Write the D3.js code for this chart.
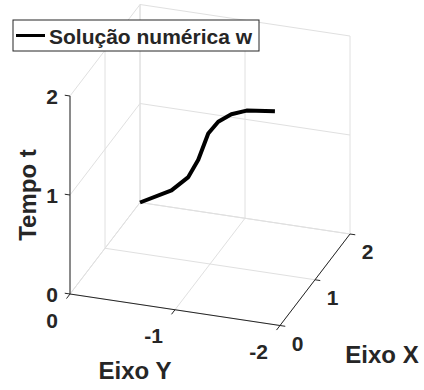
<!DOCTYPE html>
<html>
<head>
<meta charset="utf-8">
<script src="https://cdn.jsdelivr.net/npm/d3@7"></script>
<style>
  body { margin: 0; background: #fff; }
  text { font-family: "Liberation Sans", Arial, Helvetica, sans-serif; font-weight: bold; fill: #262626; }
</style>
</head>
<body>
<svg id="chart_svg"></svg>
<script>
// Curve data (numerical solution w)
var xVals = [2, 2, 2, 2, 2, 2, 2, 2, 2];
var wVals = [0, -0.3, -0.46, -0.555, -0.65, -0.745, -0.87, -1.015, -1.285];
var tVals = [0, 0.17, 0.33, 0.52, 0.80, 0.935, 1.03, 1.09, 1.125];

// Axis ticks
var xTicks = [0, 1, 2];
var yTicks = [0, -1, -2];
var zTicks = [0, 1, 2];

var legendLabel = "Solução numérica w";

var width = 424, height = 390;
var svg = d3.select('#chart_svg').attr('width', width).attr('height', height);

// Projection: origin of axes and per-axis screen vectors (full axis length)
var origin = [70, 294];
var xVec = [70, -91.5];    // x: 0 -> 2
var yVec = [210, 31.5];    // y: 0 -> -2
var zVec = [0, -198];      // z: 0 -> 2

var xS = d3.scaleLinear().domain([0, 2]).range([0, 1]);
var yS = d3.scaleLinear().domain([0, -2]).range([0, 1]);
var zS = d3.scaleLinear().domain([0, 2]).range([0, 1]);

function proj(x, y, z) {
    var a = xS(x), b = yS(y), c = zS(z);
    return [origin[0] + a * xVec[0] + b * yVec[0] + c * zVec[0],
            origin[1] + a * xVec[1] + b * yVec[1] + c * zVec[1]];
}

var gridColor = '#e0e0e0';
var axisColor = '#262626';

var grid = svg.append('g').attr('id', 'grid');
function seg(g, p, q, color, w) {
    g.append('line')
        .attr('x1', p[0]).attr('y1', p[1])
        .attr('x2', q[0]).attr('y2', q[1])
        .attr('stroke', color)
        .attr('stroke-width', w);
}

// Floor z=0
xTicks.forEach(function (x) { seg(grid, proj(x, 0, 0), proj(x, -2, 0), gridColor, 1); });
yTicks.forEach(function (y) { seg(grid, proj(0, y, 0), proj(2, y, 0), gridColor, 1); });
// Back wall x=2
yTicks.forEach(function (y) { seg(grid, proj(2, y, 0), proj(2, y, 2), gridColor, 1); });
zTicks.forEach(function (z) { seg(grid, proj(2, 0, z), proj(2, -2, z), gridColor, 1); });
// Side wall y=0
xTicks.forEach(function (x) { seg(grid, proj(x, 0, 0), proj(x, 0, 2), gridColor, 1); });
zTicks.forEach(function (z) { seg(grid, proj(0, 0, z), proj(2, 0, z), gridColor, 1); });

// Axis lines
var axes = svg.append('g').attr('id', 'axes');
seg(axes, proj(0, 0, 0), proj(0, 0, 2), axisColor, 1);
seg(axes, proj(0, 0, 0), proj(0, -2, 0), axisColor, 1);
seg(axes, proj(0, -2, 0), proj(2, -2, 0), axisColor, 1);

// Tick marks
var tk = 0.05;
zTicks.forEach(function (z) { seg(axes, proj(0, 0, z), proj(0, tk, z), axisColor, 1); });
yTicks.forEach(function (y) { seg(axes, proj(0, y, 0), proj(-tk * 2, y, 0), axisColor, 1); });
xTicks.forEach(function (x) { seg(axes, proj(x, -2, 0), proj(x, -2 - tk, 0), axisColor, 1); });

// Tick labels
var tickFont = 21;
zTicks.forEach(function (z) {
    var p = proj(0, 0, z);
    axes.append('text').attr('x', p[0] - 12).attr('y', p[1])
        .attr('text-anchor', 'end').attr('dominant-baseline', 'central')
        .attr('font-size', tickFont).text(z);
});
yTicks.forEach(function (y) {
    var p = proj(0, y, 0);
    axes.append('text').attr('x', p[0] - 12).attr('y', p[1] + 26)
        .attr('text-anchor', 'end').attr('dominant-baseline', 'central')
        .attr('font-size', tickFont).text(y === 0 ? '0' : String(y));
});
xTicks.forEach(function (x) {
    var p = proj(x, -2, 0);
    axes.append('text').attr('x', p[0] + 17.5).attr('y', p[1] + 17.5)
        .attr('text-anchor', 'middle').attr('dominant-baseline', 'central')
        .attr('font-size', tickFont).text(x);
});

// Axis labels
var labelFont = 24;
var pz = proj(0, 0, 1);
axes.append('text')
    .attr('transform', 'translate(' + (pz[0] - 43) + ',' + pz[1] + ') rotate(-90)')
    .attr('text-anchor', 'middle').attr('dominant-baseline', 'central')
    .attr('font-size', labelFont).text('Tempo t');
var py = proj(0, -1, 0);
axes.append('text').attr('x', py[0] - 40).attr('y', py[1] + 61)
    .attr('text-anchor', 'middle').attr('dominant-baseline', 'central')
    .attr('font-size', labelFont).text('Eixo Y');
var px = proj(1, -2, 0);
axes.append('text').attr('x', px[0] + 67).attr('y', px[1] + 75)
    .attr('text-anchor', 'middle').attr('dominant-baseline', 'central')
    .attr('font-size', labelFont).text('Eixo X');

// Curve
var pts = tVals.map(function (t, i) { return proj(xVals[i], wVals[i], t); });
svg.append('path')
    .datum(pts)
    .attr('d', d3.line())
    .attr('fill', 'none')
    .attr('stroke', '#000')
    .attr('stroke-width', 4)
    .attr('stroke-linejoin', 'round');

// Legend
var legend = svg.append('g').attr('id', 'legend');
legend.append('rect')
    .attr('x', 13).attr('y', 20).attr('width', 246).attr('height', 31)
    .attr('fill', '#fff').attr('stroke', axisColor).attr('stroke-width', 1);
legend.append('line')
    .attr('x1', 16).attr('y1', 35.5).attr('x2', 45).attr('y2', 35.5)
    .attr('stroke', '#000').attr('stroke-width', 3);
legend.append('text')
    .attr('x', 49).attr('y', 36)
    .attr('dominant-baseline', 'central')
    .attr('font-size', 21).text(legendLabel);
</script>
</body>
</html>
